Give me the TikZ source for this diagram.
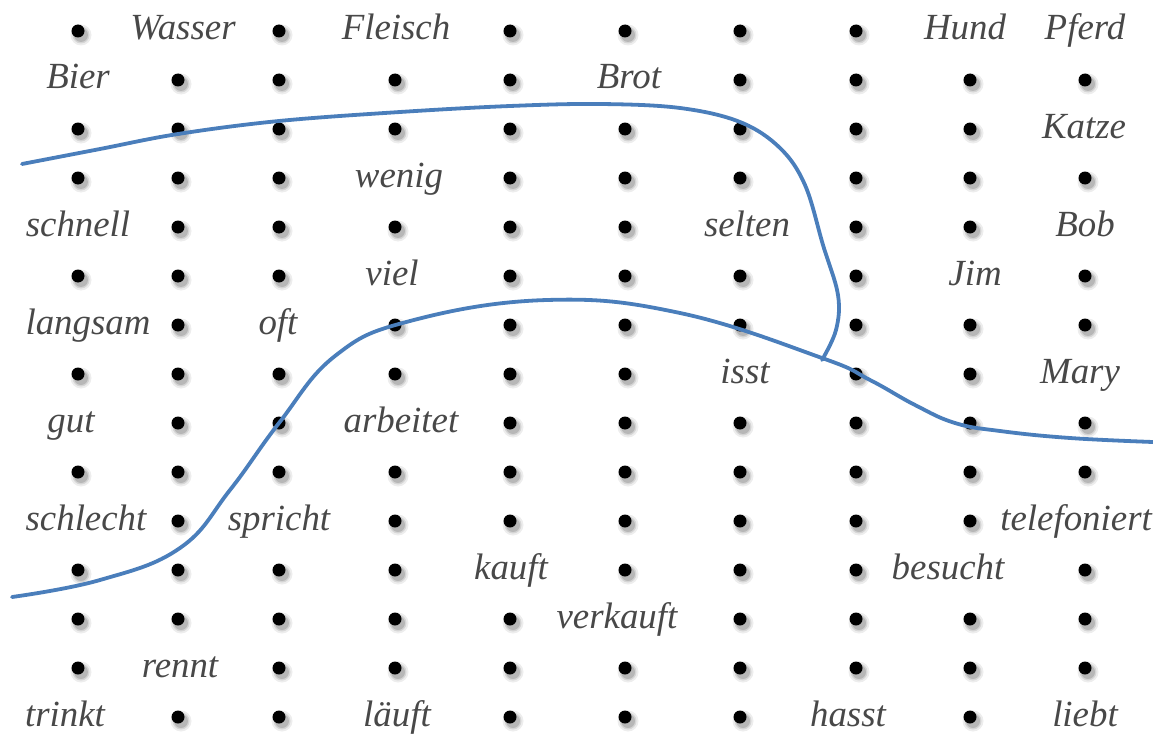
\documentclass[tikz,border=0pt]{standalone}
\usepackage{fontspec}
\setmainfont{Liberation Serif}
\definecolor{wordgray}{RGB}{72,72,72}
\definecolor{lineblue}{RGB}{74,126,187}
\tikzset{
  word/.style={anchor=base, text=wordgray, inner sep=0pt,
    font=\fontsize{37}{44}\selectfont\itshape},
  dotnode/.style={circle, fill=black, minimum size=13bp, inner sep=0pt},
  dotshadow/.style={fill=black, draw=none},
  boundary/.style={draw=lineblue, line width=3.8bp, line cap=round}
}
\def\dotmark{*}
\begin{document}
\begin{tikzpicture}[x=1bp, y=-1bp]
\useasboundingbox (0,0) rectangle (1153,736);
\def\colx{{78,178,279,395,510,625,740,856,970,1085}}
% grid of dots; the words sit on their own nodes below
\foreach \row [count=\r from 0] in {
  {*,-,*,-,*,*,*,*,-,-},
  {-,*,*,*,*,-,*,*,*,*},
  {*,*,*,*,*,*,*,*,*,-},
  {*,*,*,-,*,*,*,*,*,*},
  {-,*,*,*,*,*,-,*,*,-},
  {*,*,*,-,*,*,*,*,-,*},
  {-,*,-,*,*,*,*,*,*,*},
  {*,*,*,*,*,*,-,*,*,-},
  {-,*,*,-,*,*,*,*,*,*},
  {*,*,*,*,*,*,*,*,*,*},
  {-,*,-,*,*,*,*,*,*,-},
  {*,*,*,*,-,*,*,*,-,*},
  {*,*,*,*,*,-,*,*,*,*},
  {*,-,*,*,*,*,*,*,*,*},
  {-,*,*,-,*,*,*,-,*,-}}{
  \foreach \e [count=\c from 0] in \row {
    \ifx\e\dotmark
      \pgfmathsetmacro\xx{\colx[\c]}
      \pgfmathsetmacro\yy{31+49*\r}
      % soft drop shadow under each dot
      \fill[dotshadow, opacity=0.07] (\xx+3,\yy+4) circle (10.5bp);
      \fill[dotshadow, opacity=0.10] (\xx+3,\yy+4) circle (8.5bp);
      \fill[dotshadow, opacity=0.14] (\xx+3,\yy+4) circle (7bp);
      \node[dotnode] (d-\r-\c) at (\xx,\yy) {};
    \fi
  }
}
% words (base line about 9 units below the row of dots)
\foreach \txt/\wx/\r in {
  Wasser/183/0, Fleisch/396/0, Hund/965/0, Pferd/1085/0,
  Bier/78/1, Brot/629/1,
  Katze/1084/2,
  wenig/399/3,
  schnell/78/4, selten/747/4, Bob/1085/4,
  viel/392/5, Jim/975/5,
  langsam/88/6, oft/278/6,
  isst/745/7, Mary/1080/7,
  gut/71/8, arbeitet/401/8,
  schlecht/86/10, spricht/279/10,
  kauft/511/11, besucht/948/11,
  verkauft/617/12,
  rennt/180/13,
  trinkt/65/14, läuft/397/14, hasst/848/14, liebt/1085/14}{
  \node[word] (w-\txt) at (\wx,31+49*\r+9) {\txt};
}
\node[word, anchor=base east] (w-telefoniert) at (1152,31+49*10+9) {telefoniert};
% upper boundary curve
\draw[boundary] plot[smooth, tension=0.6] coordinates {
  (22,164) (100,149) (178,134) (279,121) (400,112) (510,106) (600,104)
  (680,108) (740,122) (780,148) (805,185) (823,245) (838,295) (836,330) (822,360)};
% lower boundary curve
\draw[boundary] plot[smooth, tension=0.7] coordinates {
  (12,597) (100,580) (180,548) (230,490) (279,423) (335,356) (410,321)
  (547,300) (680,313) (822,358) (870,380) (915,405) (955,423)
  (1000,431) (1070,438) (1153,442)};
\end{tikzpicture}
\end{document}
